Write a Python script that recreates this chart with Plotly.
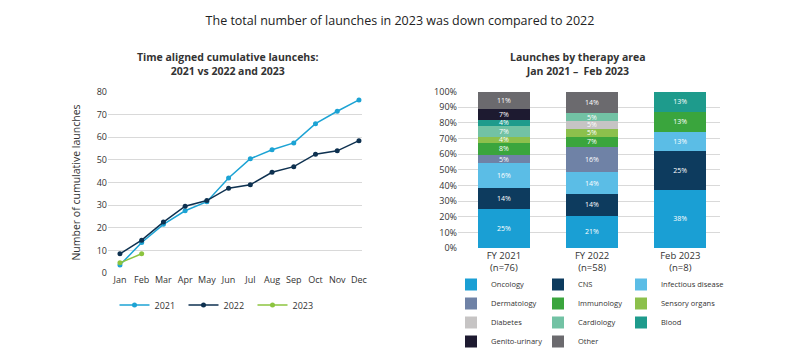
import plotly.graph_objects as go

# ---- Data: cumulative launches ----
months = ["Jan", "Feb", "Mar", "Apr", "May", "Jun", "Jul", "Aug", "Sep", "Oct", "Nov", "Dec"]
launches_2021 = [3.5, 13.5, 21.5, 27.5, 31.5, 42, 50.5, 54.5, 57.5, 66, 71.5, 76.5]
launches_2022 = [8.5, 14.5, 22.5, 29.5, 32, 37.5, 39, 44.5, 47, 52.5, 54, 58.5]
launches_2023 = [4.5, 8.5]
line_ticks = [0, 10, 20, 30, 40, 50, 60, 70, 80]

# ---- Data: launches by therapy area (%) ----
periods = ["FY 2021<br>(n=76)", "FY 2022<br>(n=58)", "Feb 2023<br>(n=8)"]
oncology = [25, 21, 38]
cns = [14, 14, 25]
infectious = [16, 14, 13]
dermatology = [5, 16, None]
immunology = [8, 7, 13]
sensory = [4, 5, None]
diabetes = [None, 5, None]
cardiology = [7, 5, None]
blood = [4, None, 13]
genito = [7, None, None]
other = [11, 14, None]
pct_ticks = [0, 10, 20, 30, 40, 50, 60, 70, 80, 90, 100]
pct_labels = [f"{v}%" for v in pct_ticks]

FONT = "Open Sans"
TXT = "#333333"
GRID = "#d9d9d9"

fig = go.Figure()

# ---- Line chart ----
line_series = [
    ("2021", launches_2021, "#1ca3d4"),
    ("2022", launches_2022, "#0e3150"),
    ("2023", launches_2023, "#8cc43f"),
]
for name, vals, col in line_series:
    fig.add_trace(go.Scatter(
        x=months[:len(vals)], y=vals, name=name, mode="lines+markers",
        line=dict(color=col, width=1.5), marker=dict(color=col, size=5),
        xaxis="x", yaxis="y", legend="legend",
    ))

# ---- Stacked bars ----
bar_series = [
    ("Oncology", oncology, "#1a9fd4", "legend2"),
    ("CNS", cns, "#0d3b5e", "legend3"),
    ("Infectious disease", infectious, "#5bbde6", "legend4"),
    ("Dermatology", dermatology, "#6f82a6", "legend2"),
    ("Immunology", immunology, "#3aa53d", "legend3"),
    ("Sensory organs", sensory, "#8cc04c", "legend4"),
    ("Diabetes", diabetes, "#c6c4c4", "legend2"),
    ("Cardiology", cardiology, "#72c2a4", "legend3"),
    ("Blood", blood, "#1e9b8c", "legend4"),
    ("Genito-urinary", genito, "#1d1a30", "legend2"),
    ("Other", other, "#6b6a6e", "legend3"),
]
for name, vals, col, lg in bar_series:
    fig.add_trace(go.Bar(
        x=periods, y=vals, name=name, marker=dict(color=col, line=dict(width=0)),
        text=[f"{v}%" if v is not None else "" for v in vals],
        texttemplate="%{text}", textposition="inside", insidetextanchor="middle",
        textangle=0, constraintext="none",
        textfont=dict(color="white", size=7, family=FONT),
        width=0.59, xaxis="x2", yaxis="y2", legend=lg,
    ))

leg_common = dict(font=dict(size=7.5, color=TXT), bgcolor="rgba(0,0,0,0)", traceorder="normal",
                  yanchor="top", y=1 - 262 / 356, xanchor="left")

fig.update_layout(
    width=800, height=356,
    margin=dict(l=0, r=0, t=0, b=0, autoexpand=False),
    paper_bgcolor="white", plot_bgcolor="white",
    font=dict(family=FONT, color=TXT, size=9),
    barmode="stack", barnorm="percent",
    title=dict(text="The total number of launches in 2023 was down compared to 2022",
               x=0.49, xanchor="center", y=1 - 13 / 356, yanchor="middle",
               font=dict(size=12.5, color="#222222", family=FONT)),
    xaxis=dict(domain=[100 / 800, 354 / 800], range=[-0.55, 11.14], type="category",
               showgrid=False, showline=False, ticks="", zeroline=False, automargin=False,
               tickfont=dict(size=9, color=TXT)),
    yaxis=dict(domain=[1 - 265 / 356, 1 - 84 / 356], range=[0, 80], tickvals=line_ticks,
               showgrid=True, gridcolor=GRID, gridwidth=1, zeroline=False, showline=False,
               ticks="", tickfont=dict(size=9, color=TXT), automargin=False,
               title=dict(text="Number of cumulative launches", font=dict(size=10.5, color=TXT), standoff=14)),
    xaxis2=dict(domain=[450 / 800, 712 / 800], range=[-0.52, 2.45], type="category",
                showgrid=False, showline=False, ticks="", zeroline=False, automargin=False,
                tickfont=dict(size=9.5, color=TXT), anchor="y2"),
    yaxis2=dict(domain=[1 - 240 / 356, 1 - 83.7 / 356], range=[0, 100], tickvals=pct_ticks,
                ticktext=pct_labels, showgrid=True, gridcolor=GRID, gridwidth=1, zeroline=False,
                showline=False, ticks="", tickfont=dict(size=9, color=TXT), anchor="x2",
                automargin=False),
    legend=dict(orientation="h", x=0.2625, xanchor="center", y=1 - 297 / 356, yanchor="middle",
                font=dict(size=9, color=TXT), bgcolor="rgba(0,0,0,0)",
                entrywidth=24, entrywidthmode="pixels"),
    legend2=dict(x=443 / 800, **leg_common),
    legend3=dict(x=530 / 800, **leg_common),
    legend4=dict(x=613 / 800, **leg_common),
    annotations=[
        dict(text="<b>Time aligned cumulative launcehs:<br>2021 vs 2022 and 2023</b>",
             x=219 / 800, y=1 - 56 / 356, xref="paper", yref="paper", showarrow=False,
             xanchor="center", yanchor="middle", font=dict(size=10.5, color=TXT, family=FONT)),
        dict(text="<b>Launches by therapy area<br>Jan 2021 –  Feb 2023</b>",
             x=570 / 800, y=1 - 56 / 356, xref="paper", yref="paper", showarrow=False,
             xanchor="center", yanchor="middle", font=dict(size=10.5, color=TXT, family=FONT)),
    ],
)

fig.write_html("out.html")
